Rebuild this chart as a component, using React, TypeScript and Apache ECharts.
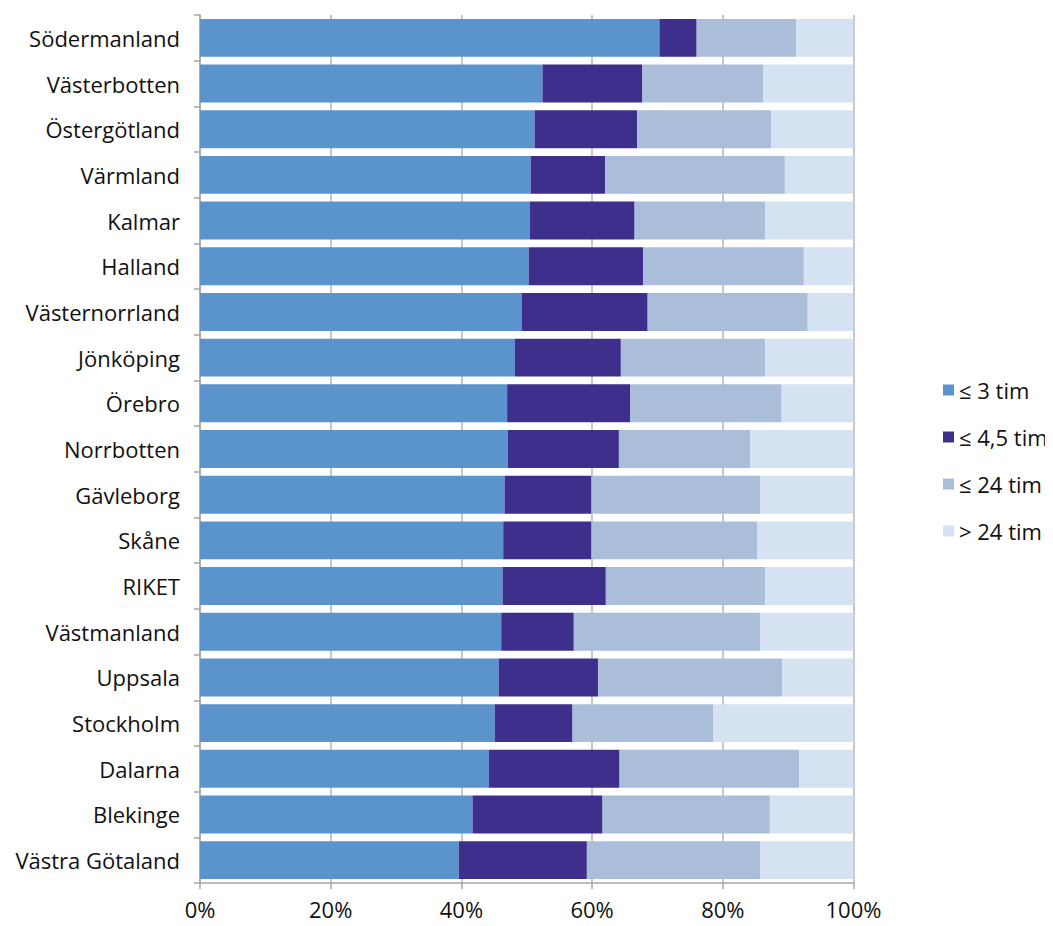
import React, { useEffect, useRef } from "react";
import * as echarts from "echarts";

const categories = [
  "Södermanland", "Västerbotten", "Östergötland", "Värmland", "Kalmar", "Halland",
  "Västernorrland", "Jönköping", "Örebro", "Norrbotten", "Gävleborg", "Skåne",
  "RIKET", "Västmanland", "Uppsala", "Stockholm", "Dalarna", "Blekinge", "Västra Götaland",
];
const seriesNames = ["≤ 3 tim", "≤ 4,5 tim", "≤ 24 tim", "> 24 tim"];
const le3 = [70.3, 52.4, 51.2, 50.6, 50.5, 50.3, 49.2, 48.2, 47.0, 47.1, 46.6, 46.4, 46.3, 46.1, 45.7, 45.1, 44.2, 41.7, 39.6];
const le45 = [5.7, 15.3, 15.7, 11.4, 16.0, 17.5, 19.3, 16.2, 18.8, 17.0, 13.3, 13.5, 15.8, 11.1, 15.2, 11.9, 20.0, 19.9, 19.6];
const le24 = [15.2, 18.5, 20.5, 27.5, 20.0, 24.6, 24.5, 22.1, 23.2, 20.1, 25.8, 25.4, 24.4, 28.5, 28.2, 21.5, 27.5, 25.6, 26.5];
const gt24 = [8.8, 13.8, 12.6, 10.5, 13.5, 7.6, 7.0, 13.5, 11.0, 15.8, 14.3, 14.7, 13.5, 14.3, 10.9, 21.5, 8.3, 12.8, 14.3];
const xTicks = [0, 20, 40, 60, 80, 100];
const colors = ["#5B93CD", "#3E2F8C", "#ABBED9", "#D4E2F2"];

export default function App() {
  const ref = useRef<HTMLDivElement>(null);
  useEffect(() => {
    if (!ref.current) return;
    const chart = echarts.init(ref.current, undefined, { renderer: "svg" });
    const font = "'Open Sans', sans-serif";
    const data = [le3, le45, le24, gt24];
    chart.setOption({
      animation: false,
      grid: { left: 200, right: 199.5, top: 15, bottom: 43, containLabel: false },
      legend: {
        orient: "vertical",
        left: 938,
        top: 374,
        itemWidth: 11,
        itemHeight: 11,
        itemGap: 25,
        icon: "rect",
        textStyle: { fontFamily: font, fontSize: 22, color: "#111" },
        data: seriesNames,
      },
      xAxis: {
        type: "value",
        min: 0,
        max: 100,
        interval: 20,
        axisLine: { show: true, lineStyle: { color: "#A6A6A6", width: 1.5 } },
        axisTick: { show: true, length: 6, lineStyle: { color: "#A6A6A6", width: 1.5 } },
        splitLine: { show: true, lineStyle: { color: "#B5B5B5", width: 1.5 } },
        axisLabel: {
          margin: 15,
          fontFamily: font,
          fontSize: 22,
          lineHeight: 22,
          color: "#111",
          formatter: (v: number) => (xTicks.includes(v) ? v + "%" : ""),
        },
      },
      yAxis: {
        type: "category",
        inverse: true,
        data: categories,
        axisLine: { show: true, lineStyle: { color: "#A6A6A6", width: 1.5 } },
        axisTick: { show: true, length: 6, lineStyle: { color: "#A6A6A6", width: 1.5 } },
        axisLabel: { margin: 20, fontFamily: font, fontSize: 22, color: "#111" },
      },
      series: seriesNames.map((name, i) => ({
        name,
        type: "bar",
        stack: "total",
        barCategoryGap: "17%",
        itemStyle: { color: colors[i] },
        data: data[i],
      })),
    });
    return () => chart.dispose();
  }, []);
  return <div ref={ref} style={{ width: 1053, height: 926, margin: -8 }} />;
}
